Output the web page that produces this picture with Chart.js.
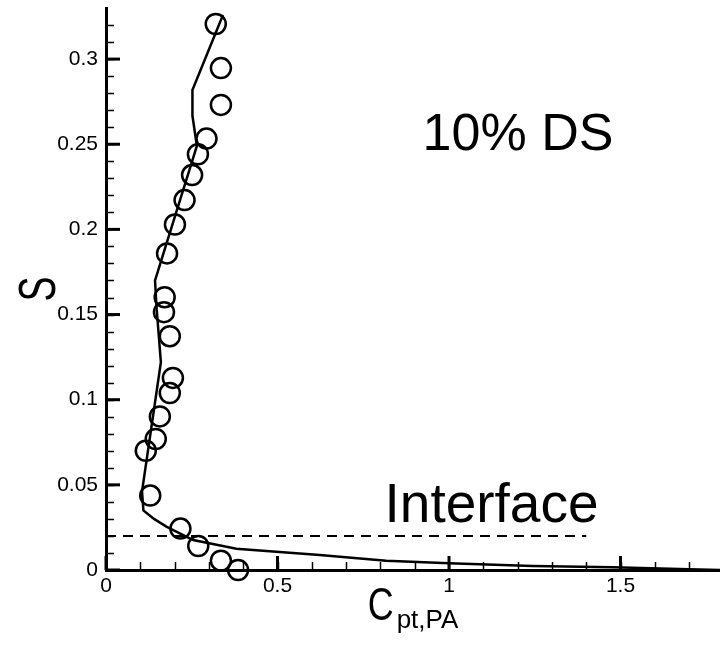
<!DOCTYPE html>
<html>
<head>
<meta charset="utf-8">
<title>Cpt,PA profile</title>
<script src="https://cdn.jsdelivr.net/npm/chart.js@4.4.1/dist/chart.umd.min.js"></script>
<style>
  html, body { margin: 0; padding: 0; background: #fff; }
  canvas { display: block; }
</style>
</head>
<body>
<canvas id="profileChart" width="720" height="650"></canvas>
<script>
// Measured points (circles)
const expCpt = [0.320, 0.335, 0.335, 0.293, 0.268, 0.251, 0.229, 0.201, 0.178, 0.171, 0.169,
                0.186, 0.195, 0.186, 0.157, 0.145, 0.116, 0.129, 0.217, 0.269, 0.335, 0.385];
const expS   = [0.3206, 0.2947, 0.2731, 0.2533, 0.2441, 0.2319, 0.2172, 0.2029, 0.1859, 0.1602, 0.1514,
                0.1373, 0.1128, 0.1039, 0.0902, 0.0769, 0.0700, 0.0437, 0.0243, 0.0141, 0.0055, 0.0];

// Computed profile (solid line)
const cfdCpt = [0.341, 0.252, 0.252, 0.265, 0.143, 0.147, 0.160, 0.105, 0.109, 0.140, 0.176, 0.254,
                0.380, 0.623, 0.817, 1.000, 1.244, 1.478, 1.700, 1.790];
const cfdS   = [0.3259, 0.2819, 0.2667, 0.2490, 0.1700, 0.1550, 0.1220, 0.0460, 0.0350, 0.0300, 0.0255, 0.0176,
                0.0125, 0.0088, 0.0055, 0.0039, 0.0024, 0.0016, 0.0005, 0.0];

// Interface height
const interfaceS = 0.02;
const interfaceCpt = [0, 1.4];

// Axis ticks
const xTicks = [0, 0.5, 1, 1.5];
const xTickLabels = ['0', '0.5', '1', '1.5'];
const xMinorStep = 0.1;
const yTicks = [0, 0.05, 0.1, 0.15, 0.2, 0.25, 0.3];
const yTickLabels = ['0', '0.05', '0.1', '0.15', '0.2', '0.25', '0.3'];
const yMinorStep = 0.01;

const FONT = '"Liberation Sans", Arial, Helvetica, sans-serif';

const toXY = (xs, ys) => xs.map((x, i) => ({ x: x, y: ys[i] }));

// no extra room for tick labels at the ends of the axes
const noPadding = (scale) => {
  scale.paddingTop = 0;
  scale.paddingBottom = 0;
  scale.paddingLeft = 0;
  scale.paddingRight = 0;
};

// inward tick marks + labels drawn on top of the plot
const decorPlugin = {
  id: 'decor',
  afterDraw(chart) {
    const ctx = chart.ctx;
    const xs = chart.scales.x, ys = chart.scales.y;
    const area = chart.chartArea;
    ctx.save();
    ctx.strokeStyle = '#000';

    // minor ticks
    ctx.lineWidth = 1.5;
    for (let v = xMinorStep; v < xs.max; v += xMinorStep) {
      const px = Math.round(xs.getPixelForValue(v)) + 0.5;
      ctx.beginPath(); ctx.moveTo(px, area.bottom); ctx.lineTo(px, area.bottom - 8); ctx.stroke();
    }
    for (let v = yMinorStep; v < ys.max; v += yMinorStep) {
      const py = Math.round(ys.getPixelForValue(v)) + 0.5;
      ctx.beginPath(); ctx.moveTo(area.left, py); ctx.lineTo(area.left + 8, py); ctx.stroke();
    }
    // major ticks
    ctx.lineWidth = 3;
    xTicks.forEach(v => {
      const px = xs.getPixelForValue(v);
      ctx.beginPath(); ctx.moveTo(px, area.bottom); ctx.lineTo(px, area.bottom - 14); ctx.stroke();
    });
    yTicks.forEach(v => {
      const py = ys.getPixelForValue(v);
      ctx.beginPath(); ctx.moveTo(area.left, py); ctx.lineTo(area.left + 14, py); ctx.stroke();
    });

    ctx.fillStyle = '#000';
    ctx.textAlign = 'left';
    ctx.textBaseline = 'alphabetic';

    // annotations
    ctx.font = '52px ' + FONT;
    ctx.fillText('10% DS', xs.getPixelForValue(0.923), ys.getPixelForValue(0.2465));
    ctx.font = '55px ' + FONT;
    ctx.fillText('Interface', xs.getPixelForValue(0.812), ys.getPixelForValue(0.0284));

    // y title (narrow S, reading upwards)
    ctx.save();
    ctx.translate(41, (area.top + area.bottom) / 2);
    ctx.rotate(-Math.PI / 2);
    ctx.scale(0.72, 1);
    ctx.font = '52px ' + FONT;
    ctx.textAlign = 'center';
    ctx.textBaseline = 'middle';
    ctx.fillText('S', 0, 0);
    ctx.restore();

    // x title with subscript
    ctx.save();
    const sq = 0.78;
    ctx.font = '46px ' + FONT;
    const wC = ctx.measureText('C').width * sq;
    ctx.font = '26px ' + FONT;
    const wSub = ctx.measureText('pt,PA').width;
    const x0 = (area.left + area.right) / 2 - (wC + 3 + wSub) / 2;
    ctx.translate(x0, 620);
    ctx.font = '26px ' + FONT;
    ctx.fillText('pt,PA', wC + 3, 8);
    ctx.scale(sq, 1);
    ctx.font = '46px ' + FONT;
    ctx.fillText('C', 0, 0);
    ctx.restore();

    ctx.restore();
  }
};

const chart = new Chart(document.getElementById('profileChart').getContext('2d'), {
  type: 'scatter',
  data: {
    datasets: [
      {
        label: 'Computed',
        data: toXY(cfdCpt, cfdS),
        showLine: true,
        borderColor: '#000',
        borderWidth: 2.5,
        pointRadius: 0,
        fill: false,
        tension: 0,
        clip: false
      },
      {
        label: 'Interface',
        data: toXY(interfaceCpt, interfaceCpt.map(() => interfaceS)),
        showLine: true,
        borderColor: '#000',
        borderWidth: 2,
        borderDash: [10, 7],
        pointRadius: 0,
        fill: false
      },
      {
        label: 'Measured',
        data: toXY(expCpt, expS),
        pointStyle: 'circle',
        pointRadius: 10,
        pointBorderWidth: 2.5,
        pointBorderColor: '#000',
        pointBackgroundColor: 'rgba(0,0,0,0)',
        clip: false
      }
    ]
  },
  options: {
    responsive: false,
    animation: false,
    layout: { autoPadding: false, padding: { top: 8, right: 0, left: 0, bottom: 0 } },
    plugins: {
      legend: { display: false },
      tooltip: { enabled: false }
    },
    scales: {
      x: {
        type: 'linear',
        min: 0,
        max: 1.79,
        grid: { display: false, drawTicks: false },
        border: { display: true, color: '#000', width: 3 },
        afterBuildTicks: (scale) => { scale.ticks = xTicks.map(v => ({ value: v })); },
        afterFit: (scale) => { scale.height = 80; noPadding(scale); },
        ticks: {
          color: '#000',
          padding: 4,
          maxRotation: 0,
          font: { family: FONT, size: 21 },
          callback: (v) => xTickLabels[xTicks.indexOf(v)]
        }
      },
      y: {
        type: 'linear',
        min: 0,
        max: 0.33,
        grid: { display: false, drawTicks: false },
        border: { display: true, color: '#000', width: 3 },
        afterBuildTicks: (scale) => { scale.ticks = yTicks.map(v => ({ value: v })); },
        afterFit: (scale) => { scale.width = 106; noPadding(scale); },
        ticks: {
          color: '#000',
          padding: 8,
          font: { family: FONT, size: 21 },
          callback: (v) => yTickLabels[yTicks.indexOf(v)]
        }
      }
    }
  },
  plugins: [decorPlugin]
});
</script>
</body>
</html>
